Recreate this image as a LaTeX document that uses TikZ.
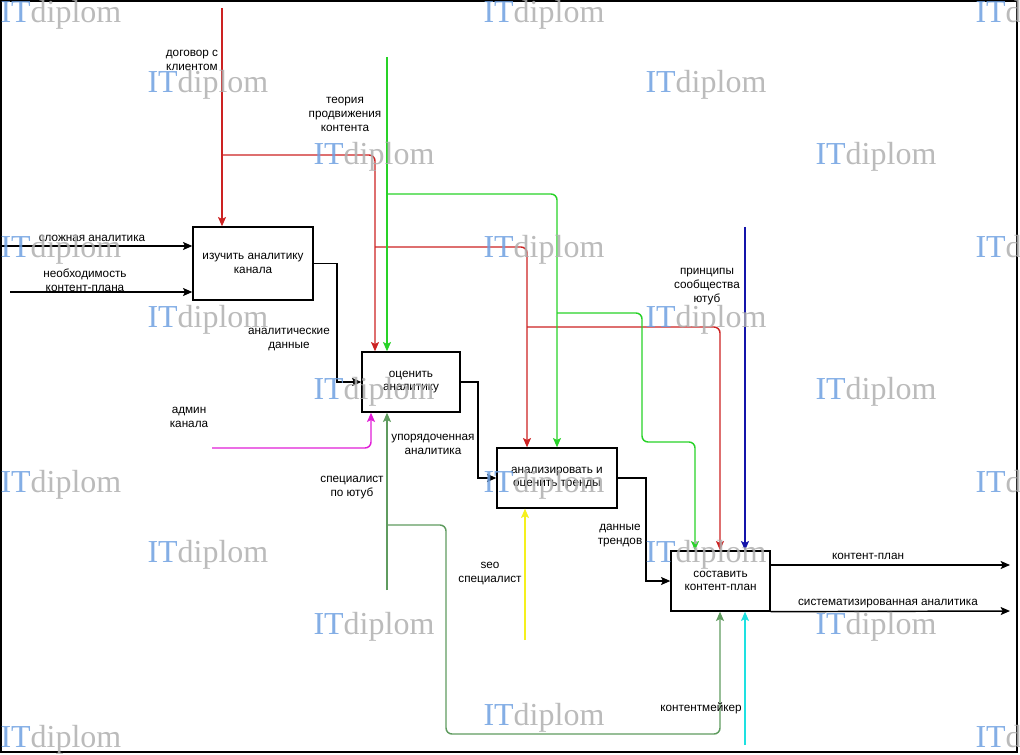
\documentclass[tikz,border=0pt]{standalone}
\usepackage{fontspec}
\setmainfont{Liberation Sans}
\newfontfamily\wmfont{Liberation Serif}
\usetikzlibrary{arrows.meta}

\definecolor{ctlred}{RGB}{204,34,34}
\definecolor{ctlgreen}{RGB}{40,210,40}
\definecolor{ctlblue}{RGB}{20,20,170}
\definecolor{mecmag}{RGB}{225,30,215}
\definecolor{mecgreen}{RGB}{95,155,95}
\definecolor{mecyellow}{RGB}{245,240,30}
\definecolor{meccyan}{RGB}{30,225,225}
\definecolor{wmblue}{RGB}{110,160,225}
\definecolor{wmgray}{RGB}{175,175,175}

\tikzset{every picture/.style={line width=0.75pt}}
\tikzset{
  func/.style={draw, line width=1pt, fill=white, align=center, inner sep=0pt, minimum height=45pt, font=\fontsize{8.8}{10.2}\selectfont},
  lbl/.style={align=center, inner sep=0pt, font=\fontsize{8.8}{10.5}\selectfont},
  flow/.style={line width=1.1pt, -{Stealth[length=7pt,width=6pt,inset=1.5pt]}},
  softturn/.style={rounded corners=4.5pt},
  wm/.style={anchor=west, inner sep=0pt, opacity=0.85, font=\wmfont\fontsize{24}{24}\selectfont},
}

\begin{document}
\begin{tikzpicture}[x=0.75pt,y=0.75pt,yscale=-1,xscale=1]
\useasboundingbox (0,0) rectangle (1020,755);
\clip (0,0) rectangle (1020,755);

% frame
\draw[line width=1.5pt] (1,1) rectangle (1017,752);

% functions
\node[func, minimum width=90pt, minimum height=54.75pt] (A) at (253,263.5) {изучить аналитику\\канала};
\node[func, minimum width=73.5pt] (B) at (411,382) {оценить\\аналитику};
\node[func, minimum width=90pt] (C) at (557,478) {анализировать и\\оценить тренды};
\node[func, minimum width=74.25pt] (D) at (720.5,581) {составить\\контент-план};

% free ends
\coordinate (in1) at (0,246);
\coordinate (in2) at (10,292);
\coordinate (kA) at (337,0);
\coordinate (kB) at (478,0);
\coordinate (kC) at (646,0);
\coordinate (out1) at (1010,565);
\coordinate (out2) at (1010,611);

% inputs and outputs
\draw[flow] (in1) -- (in1 -| A.west);
\draw[flow] (in2) -- (in2 -| A.west);
\draw[flow] (A.east) -| (kA |- B.west) -- (B.west);
\draw[flow] (B.east) -| (kB |- C.west) -- (C.west);
\draw[flow] (C.east) -| (kC |- D.west) -- (D.west);
\draw[flow] (D.east |- out1) -- (out1);
\draw[flow] (D.south east) -- (out2);

% controls: red
\coordinate (r0) at (222,8);
\coordinate (r1) at (222,155);
\coordinate (r1x) at (375,155);
\coordinate (r2) at (375,247);
\coordinate (r2x) at (527,247);
\coordinate (r3) at (527,327);
\coordinate (r3x) at (720,327);
\draw[flow, ctlred] (r0) -- (r0 |- A.north);
\draw[flow, ctlred, softturn] (r1) -- (r1x) -- (r1x |- B.north);
\draw[flow, ctlred, softturn] (r2) -- (r2x) -- (r2x |- C.north);
\draw[flow, ctlred, softturn] (r3) -- (r3x) -- (r3x |- D.north);

% controls: green
\coordinate (g0) at (387,57);
\coordinate (g1) at (387,194);
\coordinate (g1x) at (557,194);
\coordinate (g2) at (557,313);
\coordinate (g2x) at (642,313);
\coordinate (g2y) at (642,442);
\coordinate (g2z) at (695,442);
\draw[flow, ctlgreen] (g0) -- (g0 |- B.north);
\draw[flow, ctlgreen, softturn] (g1) -- (g1x) -- (g1x |- C.north);
\draw[flow, ctlgreen, softturn] (g2) -- (g2x) -- (g2y) -- (g2z) -- (g2z |- D.north);

% controls: blue
\coordinate (b0) at (745,227);
\draw[flow, ctlblue] (b0) -- (b0 |- D.north);

% mechanisms
\coordinate (m0) at (212,448);
\coordinate (m0x) at (371,448);
\draw[flow, mecmag, softturn] (m0) -- (m0x) -- (m0x |- B.south);
\coordinate (s0) at (387,590);
\coordinate (s1) at (387,525);
\coordinate (s1x) at (446,525);
\coordinate (s1y) at (446,734);
\coordinate (s1z) at (720,734);
\draw[flow, mecgreen] (s0) -- (s0 |- B.south);
\draw[flow, mecgreen, softturn] (s1) -- (s1x) -- (s1y) -- (s1z) -- (s1z |- D.south);
\coordinate (y0) at (525,640);
\draw[flow, mecyellow] (y0) -- (y0 |- C.south);
\coordinate (k0) at (745,745);
\draw[flow, meccyan] (k0) -- (k0 |- D.south);

% Text Node
\node[lbl] (t1) at (92,238) {сложная аналитика};
\node[lbl] (t2) at (85,280) {необходимость\\контент-плана};
\node[lbl] (t3) at (192,60) {договор с\\клиентом};
\node[lbl] (t4) at (345,114) {теория\\продвижения\\контента};
\node[lbl] (t5) at (289,339.5) {аналитические\\данные};
\node[lbl] (t6) at (189,417) {админ\\канала};
\node[lbl] (t7) at (433,444.5) {упорядоченная\\аналитика};
\node[lbl] (t8) at (352,488) {специалист\\по ютуб};
\node[lbl] (t9) at (490,574) {seo\\специалист};
\node[lbl] (t10) at (620,536) {данные\\трендов};
\node[lbl] (t11) at (707,287) {принципы\\сообщества\\ютуб};
\node[lbl] (t12) at (868,556) {контент-план};
\node[lbl] (t13) at (888,604) {систематизированная аналитика};
\node[lbl] (t14) at (701,708) {контентмейкер};

% watermark
\foreach \wx/\wy [count=\n] in {0/15, 483/15, 975/15, 147/85, 645/85, 313/157, 815/157,
    0/250, 483/250, 975/250, 147/320, 645/320, 313/392, 815/392,
    0/485, 483/485, 975/485, 147/555, 645/555, 313/627, 815/627,
    0/740, 483/718, 975/740}
  \node[wm] (wm\n) at (\wx,\wy) {\textcolor{wmblue}{IT}\textcolor{wmgray}{diplom}};

\end{tikzpicture}
\end{document}
